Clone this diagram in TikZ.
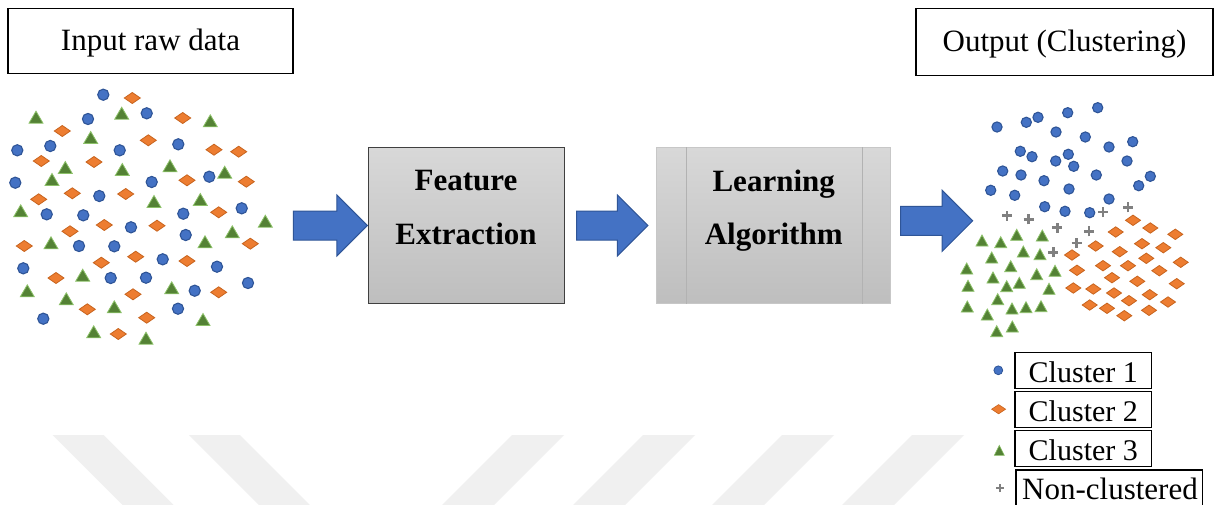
\documentclass[tikz,border=0pt]{standalone}
\usepackage{fontspec}
\setmainfont{Liberation Serif}
\usetikzlibrary{calc}
\definecolor{cblue}{HTML}{4472C4}
\definecolor{cblueD}{HTML}{2F5597}
\definecolor{corange}{HTML}{ED7D31}
\definecolor{corangeD}{HTML}{C8641E}
\definecolor{cgreen}{HTML}{548235}
\definecolor{cgreenL}{HTML}{8CC168}
\definecolor{cgray}{HTML}{808080}
\definecolor{wmgray}{HTML}{F0F0F0}
\definecolor{boxtop}{HTML}{D8D8D8}
\definecolor{boxbot}{HTML}{BEBEBE}
\newcommand\bigarrow[2]{%
  \path[barrow] ($(#1)+(0,-14.5)$) -- ($(#2)+(-30.5,-14.5)$) -- ($(#2)+(-30.5,-30.5)$)
    -- (#2) -- ($(#2)+(-30.5,30.5)$) -- ($(#2)+(-30.5,14.5)$) -- ($(#1)+(0,14.5)$) -- cycle;}
\begin{document}
\begin{tikzpicture}[x=1pt,y=-1pt,
  lbox/.style={draw=black, line width=1.4pt, fill=white, inner sep=0pt,
    text height=20pt, text depth=0pt, font=\fontsize{31}{37}\selectfont},
  legbox/.style={draw=black, line width=1.3pt, fill=white, inner sep=0pt,
    minimum height=36pt, text height=24pt, text depth=0pt, font=\fontsize{30}{36}\selectfont},
  fxbox/.style={draw=black!75, line width=1pt, shading=axis, top color=boxtop, bottom color=boxbot,
    minimum width=196pt, minimum height=155.5pt, inner sep=0pt},
  labox/.style={draw=black!22, line width=1pt, shading=axis, top color=boxtop, bottom color=boxbot,
    minimum width=234pt, minimum height=155.5pt, inner sep=0pt},
  btxt/.style={anchor=base, inner sep=0pt, font=\fontsize{31}{37}\selectfont\bfseries},
  barrow/.style={fill=cblue, draw=cblueD, line width=1pt, line join=miter},
  circ/.style={fill=cblue, draw=cblueD, line width=1.1pt},
  dia/.style={fill=corange, draw=corangeD, line width=0.8pt},
  tri/.style={fill=cgreen, draw=cgreenL, line width=0.8pt},
  plusm/.style={draw=cgray, line width=2.8pt},
  wm/.style={fill=wmgray}]
\clip (0,0) rectangle (1214,504);
\fill[white] (0,0) rectangle (1214,504);
% watermark stripes
\foreach \a in {52.7,189} \fill[wm] (\a,435) -- (\a+51,435) -- (\a+51+75,510) -- (\a+75,510) -- cycle;
\foreach \a in {512,643,782,912} \fill[wm] (\a,435) -- (\a+52,435) -- (\a+52-75,510) -- (\a-75,510) -- cycle;

% title boxes
\node[lbox, minimum width=285pt, minimum height=65pt] (inbox) at (150.5,40.8) {Input raw data};
\node[lbox, minimum width=297pt, minimum height=67pt] (outbox) at (1064.5,41.8) {Output (Clustering)};

% process boxes
\node[fxbox] (fe) at (466,225.5) {};
\node[btxt] (fe1) at (466,190.7) {Feature};
\node[btxt] (fe2) at (466,244) {Extraction};
\node[labox] (la) at (773.7,225.5) {};
\draw[black!30, line width=1pt] ($(la.north west)+(30,0)$) -- ($(la.south west)+(30,0)$);
\draw[black!30, line width=1pt] ($(la.north east)+(-29,0)$) -- ($(la.south east)+(-29,0)$);
\node[btxt] (la1) at (773.7,191) {Learning};
\node[btxt] (la2) at (773.7,244) {Algorithm};

% block arrows
\coordinate (a1s) at (293.3,225.5);
\coordinate (a1t) at (367.3,225.5);
\coordinate (a2s) at ($(fe.east)+(12,0)$);
\coordinate (a2t) at ($(la.west)+(-8.4,0)$);
\coordinate (a3s) at (900.7,220.8);
\coordinate (a3t) at (972.7,220.8);
\bigarrow{a1s}{a1t}
\bigarrow{a2s}{a2t}
\bigarrow{a3s}{a3t}

% input scatter
\foreach \x/\y in {103.3/94.7, 88/119, 146.7/113.3, 17.3/150.3, 50.3/146, 119.7/150.3, 178.3/144.3, 15.3/182.7, 151.7/182, 209.3/176.7, 99.3/196, 46.7/214.3, 83.3/215.3, 183.3/213.7, 241.7/208.3, 131/227.3, 185.7/235, 79/246, 114.3/246.3, 162.7/259.3, 217/266.7, 23.3/268.3, 110.7/278, 146/277.7, 194.7/290.7, 248/283, 178/308.7, 43.3/318.7}
  \draw[circ] (\x,\y) circle[radius=5.6pt];
\foreach \x/\y in {132.3/98, 182.7/118, 62.3/131, 148.3/140.3, 214/149.7, 238.7/151.7, 41.3/161, 94/162, 187/180.3, 246.3/181.7, 72.3/193.3, 125.7/194, 38.7/199.3, 218.7/212.3, 104.3/225, 157/225.7, 70/231.3, 250.3/243.7, 24.3/246, 135.7/256.7, 101.3/262.7, 187/261, 56/278, 133/294.3, 218.7/292.3, 87.3/309.3, 146.7/317.7, 118.3/334}
  \draw[dia] (\x,\y) +(-8pt,0) -- +(0,5.5pt) -- +(8pt,0) -- +(0,-5.5pt) -- cycle;
\foreach \x/\y in {36/117.7, 121.7/113.7, 210.3/121.3, 90.7/138, 65.3/168, 122.3/170, 170/166.3, 224.7/172.7, 52/180, 154/202, 200.3/200, 20.7/211.3, 265.3/221.7, 232.3/232.3, 51/243.3, 205/242.3, 82.7/275.7, 27.3/291.3, 171.7/288.3, 66.3/299.3, 114.3/307.3, 203/320, 93.7/332.3, 146/338.7}
  \draw[tri] (\x,\y) +(-7pt,-5.5pt) -- +(7pt,-5.5pt) -- +(0,6.5pt) -- cycle;

% output scatter
\foreach \x/\y in {997/127, 1026.3/122.3, 1038/117.3, 1067.7/112.7, 1097.7/107.7, 1056/132, 1085.3/137, 1132.7/141.7, 1109/147, 1020.3/151.3, 1032/156.7, 1068.3/154.3, 1055.7/161, 1073.7/166.3, 1127/161, 1002.7/171, 1021/175, 1096.3/175, 1150.3/176.3, 1044/180.7, 1138.7/185.7, 990.7/190.3, 1014.7/195.3, 1069/189, 1109/199, 1044.7/206.7, 1065/211.3, 1089.7/212.7}
  \draw[circ] (\x,\y) circle[radius=5.1pt];
\foreach \x/\y in {1007/215.7, 1028.7/219.3, 1057.3/227.7, 1089/231.3, 1103/212, 1128/207.3, 1076.7/243, 1053.3/252.3}
  \draw[plusm] (\x,\y) +(-5pt,0) -- +(5pt,0) +(0,-5pt) -- +(0,5pt);
\foreach \x/\y in {982/241, 1000.7/242.7, 1016.7/235.3, 1042.3/236, 1023.3/252, 991.7/258, 1040/254.7, 1010.7/266.7, 966.7/269, 1055/271.3, 993/278, 1036.7/274.7, 968/286.3, 1019.3/283.3, 1006.7/286.7, 1049/289.3, 997.7/299.7, 967.3/307, 1012/309, 1026/307.7, 1041/306.7, 987.3/315, 1012.3/327, 996.7/331.7}
  \draw[tri] (\x,\y) +(-6pt,-5pt) -- +(6pt,-5pt) -- +(0,6pt) -- cycle;
\foreach \x/\y in {1133/220.3, 1150.3/228, 1115.7/232, 1175.3/234.3, 1095.7/246, 1142/243.7, 1163.3/247.7, 1119.7/251.7, 1072/255, 1146.3/258.3, 1103/265.7, 1128/265.7, 1180.7/262.3, 1077/270.3, 1159.3/270.7, 1112/277.7, 1137.3/281.3, 1176.7/283.7, 1073.3/288, 1093.3/289, 1114/293, 1149.7/294.7, 1129/300.7, 1168/302, 1089.7/305, 1107/308.3, 1149/310.3, 1124.3/315.7}
  \draw[dia] (\x,\y) +(-7.5pt,0) -- +(0,5.2pt) -- +(7.5pt,0) -- +(0,-5.2pt) -- cycle;

% legend
\node[legbox, minimum width=136.7pt] (c1) at (1083.3,370.3) {Cluster 1};
\node[legbox, minimum width=136.7pt] (c2) at (1083.3,409.2) {Cluster 2};
\node[legbox, minimum width=136.7pt] (c3) at (1083.3,448.8) {Cluster 3};
\coordinate (c4nw) at (1016,470);
\coordinate (c4se) at (1202.7,507);
\draw[black, line width=1.3pt, fill=white] (c4nw) rectangle (c4se);
\node[anchor=base, inner sep=0pt, font=\fontsize{31}{37}\selectfont] (c4) at (1110,499.3) {Non-clustered};
\draw[circ, line width=0.8pt] ($(c1.west)+(-16,0)$) circle[radius=4.4pt];
\draw[dia, line width=0.6pt] ($(c2.west)+(-15.7,0)$) +(-7pt,0) -- +(0,4.6pt) -- +(7pt,0) -- +(0,-4.6pt) -- cycle;
\draw[tri, line width=0.6pt] ($(c3.west)+(-15,2)$) +(-5pt,-4.5pt) -- +(5pt,-4.5pt) -- +(0,5.5pt) -- cycle;
\draw[plusm, line width=2.2pt] ($(c4.west)+(-22,-0.5)$) +(-3.8pt,0) -- +(3.8pt,0) +(0,-3.8pt) -- +(0,3.8pt);
\end{tikzpicture}
\end{document}
